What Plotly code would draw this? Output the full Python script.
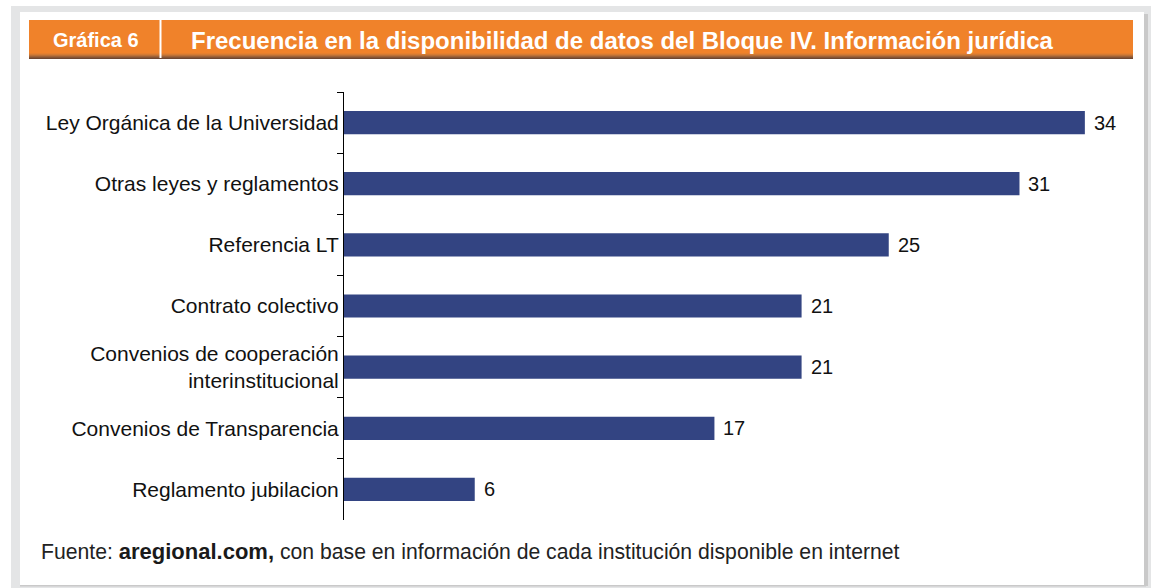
import plotly.graph_objects as go

categories = [
    "Ley Orgánica de la Universidad",
    "Otras leyes y reglamentos",
    "Referencia LT",
    "Contrato colectivo",
    "Convenios de cooperación<br>interinstitucional",
    "Convenios de Transparencia",
    "Reglamento jubilacion",
]
values = [34, 31, 25, 21, 21, 17, 6]

title_tag = "Gráfica 6"
title_text = "Frecuencia en la disponibilidad de datos del Bloque IV. Información jurídica"

W, H = 1151, 588
L, R, T, B = 344, 1126, 92, 520  # plot area in pixels
pw, ph = R - L, B - T
px_per_unit = 21.79
xmax = pw / px_per_unit

def xp(px):
    return (px - L) / pw

def yp(py):
    return (B - py) / ph

FONT = "Arial, Liberation Sans, sans-serif"
BAR = "#334482"
ORANGE = "#f0822a"

fig = go.Figure()
fig.add_trace(go.Bar(
    y=categories, x=values, orientation="h",
    marker=dict(color=BAR, line=dict(width=0)),
    hoverinfo="x+y",
))

shapes = []
# outer gray frame and white panel
shapes.append(dict(type="rect", xref="paper", yref="paper", x0=xp(11), x1=xp(1151), y0=yp(588), y1=yp(6),
                   fillcolor="#e4e5e6", line=dict(width=0), layer="below"))
shapes.append(dict(type="rect", xref="paper", yref="paper", x0=xp(1144), x1=xp(1148), y0=yp(586), y1=yp(14),
                   fillcolor="#c9c9c9", line=dict(width=0), layer="below"))
shapes.append(dict(type="rect", xref="paper", yref="paper", x0=xp(20), x1=xp(1146), y0=yp(586.5), y1=yp(585),
                   fillcolor="#c9c9c9", line=dict(width=0), layer="below"))
shapes.append(dict(type="rect", xref="paper", yref="paper", x0=xp(20), x1=xp(1144), y0=yp(585), y1=yp(12),
                   fillcolor="white", line=dict(width=0), layer="below"))
# header orange bar with darker gradient at bottom
shapes.append(dict(type="rect", xref="paper", yref="paper", x0=xp(29), x1=xp(1133), y0=yp(58), y1=yp(20),
                   fillcolor=ORANGE, line=dict(width=0), layer="below"))
grad = ["#e57f2e", "#d37a33", "#bb7036", "#a06236", "#865434", "#6e4630"]
for i, c in enumerate(grad):
    shapes.append(dict(type="rect", xref="paper", yref="paper", x0=xp(29), x1=xp(1133),
                       y0=yp(53 + i + 1), y1=yp(53 + i),
                       fillcolor=c, line=dict(width=0), layer="below"))
# white divider
shapes.append(dict(type="rect", xref="paper", yref="paper", x0=xp(159.5), x1=xp(161.5), y0=yp(58), y1=yp(20),
                   fillcolor="white", line=dict(width=0), layer="below"))

annotations = [
    dict(xref="paper", yref="paper", x=xp(96), y=yp(40), text=f"<b>{title_tag}</b>",
         showarrow=False, xanchor="center", yanchor="middle",
         font=dict(family=FONT, size=20, color="white")),
    dict(xref="paper", yref="paper", x=xp(189), y=yp(40), text=f"<b>{title_text}</b>",
         showarrow=False, xanchor="left", yanchor="middle",
         font=dict(family=FONT, size=24, color="white")),
    dict(xref="paper", yref="paper", x=xp(39), y=yp(551),
         text="Fuente: <b><span style='font-size:22px;color:#1a1a1a'>aregional.com,</span></b> con base en información de cada institución disponible en internet",
         showarrow=False, xanchor="left", yanchor="middle",
         font=dict(family=FONT, size=21.2, color="#222222")),
]
for c, v in zip(categories, values):
    annotations.append(dict(x=v, y=c, xref="x", yref="y", text=str(v), showarrow=False,
                            xanchor="left", yanchor="middle", xshift=7,
                            font=dict(family=FONT, size=20, color="#111111")))

fig.update_layout(
    width=W, height=H,
    margin=dict(l=L, r=W - R, t=T, b=H - B, pad=0),
    paper_bgcolor="white", plot_bgcolor="rgba(0,0,0,0)",
    bargap=0.62,
    showlegend=False,
    shapes=shapes,
    annotations=annotations,
    font=dict(family=FONT, size=21, color="#111111"),
)
fig.update_xaxes(range=[0, xmax], visible=False, fixedrange=True)
fig.update_yaxes(
    autorange="reversed", showline=True, linecolor="black", linewidth=1,
    ticks="outside", ticklen=6, tickcolor="black", tickwidth=1, tickson="boundaries",
    showgrid=False, zeroline=False, fixedrange=True, ticklabelstandoff=0,
    tickfont=dict(family=FONT, size=21, color="#111111"),
)

fig.write_html("out.html", config={"displayModeBar": False},
               post_script="document.body.style.margin='0';document.body.style.overflow='hidden';")
